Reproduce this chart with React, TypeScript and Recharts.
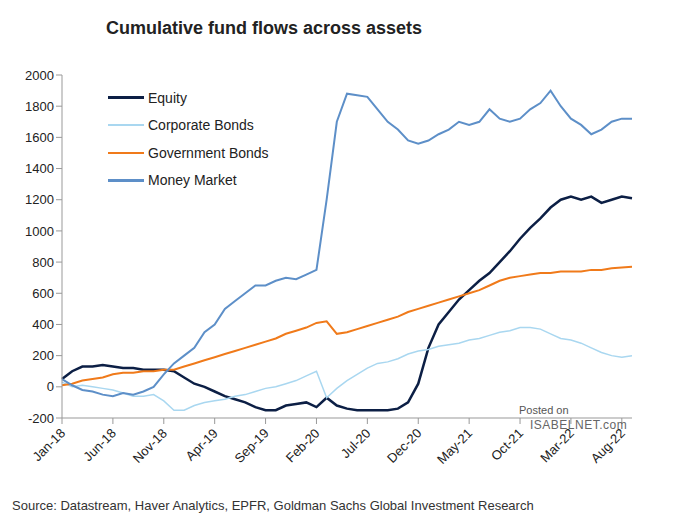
import { LineChart, Line, XAxis, YAxis } from 'recharts'

const MONTHS = ['Jan', 'Feb', 'Mar', 'Apr', 'May', 'Jun', 'Jul', 'Aug', 'Sep', 'Oct', 'Nov', 'Dec']
const dates: string[] = []
for (let y = 18; y <= 22; y++) for (const m of MONTHS) dates.push(`${m}-${y}`)
const categories = dates.slice(0, 57)

const equity = [50, 100, 130, 130, 140, 130, 120, 120, 110, 110, 110, 100, 60, 20, 0, -30, -60, -80, -100, -130, -150, -150, -120, -110, -100, -130, -70, -120, -140, -150, -150, -150, -150, -140, -100, 20, 250, 400, 480, 560, 620, 680, 730, 800, 870, 950, 1020, 1080, 1150, 1200, 1220, 1200, 1220, 1180, 1200, 1220, 1210]
const corporate = [30, 0, 10, 0, -10, -20, -40, -60, -60, -50, -90, -150, -150, -120, -100, -90, -80, -60, -50, -30, -10, 0, 20, 40, 70, 100, -70, -10, 40, 80, 120, 150, 160, 180, 210, 230, 240, 260, 270, 280, 300, 310, 330, 350, 360, 380, 380, 370, 340, 310, 300, 280, 250, 220, 200, 190, 200]
const government = [10, 20, 40, 50, 60, 80, 90, 90, 100, 100, 110, 110, 130, 150, 170, 190, 210, 230, 250, 270, 290, 310, 340, 360, 380, 410, 420, 340, 350, 370, 390, 410, 430, 450, 480, 500, 520, 540, 560, 580, 600, 620, 650, 680, 700, 710, 720, 730, 730, 740, 740, 740, 750, 750, 760, 765, 770]
const moneyMarket = [50, 10, -20, -30, -50, -60, -40, -50, -30, 0, 80, 150, 200, 250, 350, 400, 500, 550, 600, 650, 650, 680, 700, 690, 720, 750, 1200, 1700, 1880, 1870, 1860, 1780, 1700, 1650, 1580, 1560, 1580, 1620, 1650, 1700, 1680, 1700, 1780, 1720, 1700, 1720, 1780, 1820, 1900, 1800, 1720, 1680, 1620, 1650, 1700, 1720, 1720]
const yTicks = [-200, 0, 200, 400, 600, 800, 1000, 1200, 1400, 1600, 1800, 2000]
const xTicks = ['Jan-18', 'Jun-18', 'Nov-18', 'Apr-19', 'Sep-19', 'Feb-20', 'Jul-20', 'Dec-20', 'May-21', 'Oct-21', 'Mar-22', 'Aug-22']

const series = [
  { key: 'equity', name: 'Equity', color: '#0c1f45', width: 2.5, values: equity },
  { key: 'corporate', name: 'Corporate Bonds', color: '#a9d7f0', width: 1.5, values: corporate },
  { key: 'government', name: 'Government Bonds', color: '#f07a1a', width: 2, values: government },
  { key: 'money', name: 'Money Market', color: '#5d8fc8', width: 2, values: moneyMarket },
]

const data = categories.map((d, i) => {
  const row: Record<string, string | number> = { date: d }
  series.forEach((s) => (row[s.key] = s.values[i]))
  return row
})

function XTick({ x, y, payload }: any) {
  return (
    <text x={x + 4} y={y + 8} transform={`rotate(-45 ${x + 4} ${y + 8})`} textAnchor="end" fontSize={13} fill="#222">
      {payload.value}
    </text>
  )
}

export default function App() {
  return (
    <div style={{ position: 'absolute', left: 0, top: 0, width: 680, height: 525, background: '#fff', fontFamily: '"Liberation Sans", Arial, sans-serif' }}>
      <div style={{ position: 'absolute', left: 106, top: 18, fontSize: 18, fontWeight: 'bold', color: '#222' }}>
        Cumulative fund flows across assets
      </div>
      <LineChart width={680} height={470} data={data} margin={{ top: 75, right: 48, left: 0, bottom: 0 }}>
        <YAxis
          domain={[-200, 2000]}
          ticks={yTicks}
          width={62}
          tick={{ fontSize: 13, fill: '#222' }}
          tickLine={{ stroke: '#999' }}
          axisLine={{ stroke: '#999' }}
          interval={0}
        />
        <XAxis
          dataKey="date"
          ticks={xTicks}
          interval={0}
          height={52}
          tick={<XTick />}
          tickLine={{ stroke: '#999' }}
          axisLine={{ stroke: '#999' }}
        />
        {series.map((s) => (
          <Line key={s.key} dataKey={s.key} stroke={s.color} strokeWidth={s.width} dot={false} isAnimationActive={false} />
        ))}
      </LineChart>
      <div style={{ position: 'absolute', left: 108, top: 84 }}>
        {series.map((s) => (
          <div key={s.key} style={{ display: 'flex', alignItems: 'center', height: 27.5, fontSize: 14, color: '#222' }}>
            <span style={{ width: 36, height: s.width + 0.5, background: s.color, marginRight: 4 }} />
            {s.name}
          </div>
        ))}
      </div>
      <div style={{ position: 'absolute', left: 519, top: 404, fontSize: 11, color: '#555' }}>Posted on</div>
      <div style={{ position: 'absolute', left: 530, top: 418, fontSize: 12, color: '#666', letterSpacing: 0.5 }}>ISABELNET.com</div>
      <div style={{ position: 'absolute', left: 12, top: 498, fontSize: 13, color: '#333' }}>
        Source: Datastream, Haver Analytics, EPFR, Goldman Sachs Global Investment Research
      </div>
    </div>
  )
}
